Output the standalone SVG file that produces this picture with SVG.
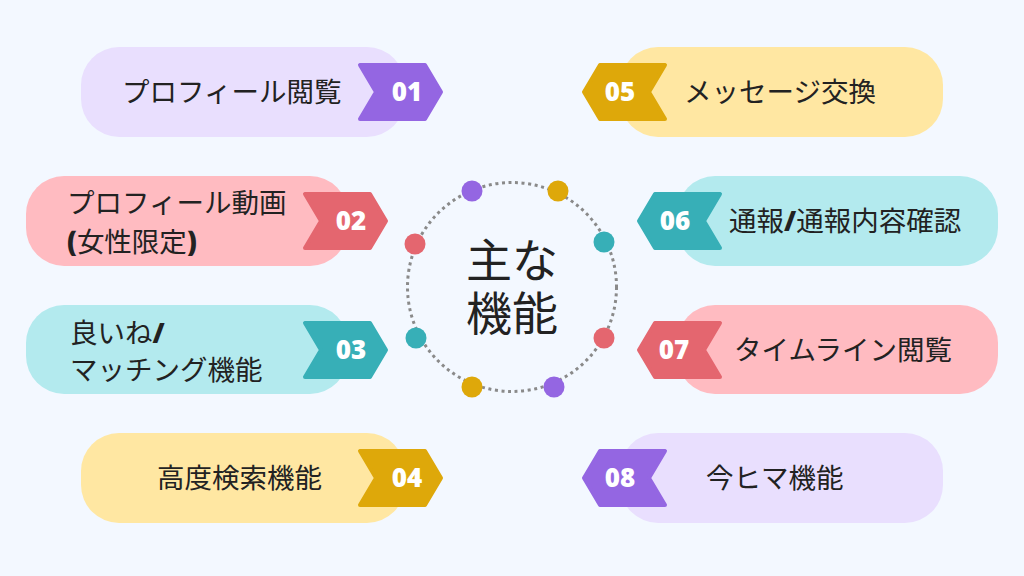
<svg xmlns="http://www.w3.org/2000/svg" width="1024" height="576" viewBox="0 0 1024 576">
<defs>
<style>
.lbl{font-family:"Noto Sans CJK JP","Noto Sans",sans-serif;font-size:27.5px;font-weight:400;fill:#222222}
.num{font-family:"Open Sans","Noto Sans",sans-serif;font-size:26px;font-weight:800;fill:#ffffff;text-anchor:middle}
.b{font-family:"Open Sans","Noto Sans",sans-serif;font-weight:800}
.ctr{font-family:"Noto Sans CJK JP","Noto Sans",sans-serif;font-size:46px;font-weight:400;fill:#222222;text-anchor:middle}
.badge{stroke-width:4;stroke-linejoin:round}
.purple-c{fill:#E9DFFE}.purple-b{fill:#9466E2;stroke:#9466E2}
.red-c{fill:#FFBBC1}.red-b{fill:#E4666F;stroke:#E4666F}
.teal-c{fill:#B3EAEE}.teal-b{fill:#37AFB7;stroke:#37AFB7}
.gold-c{fill:#FFE7A2}.gold-b{fill:#DEA80A;stroke:#DEA80A}
</style>
<path id="bR" d="M2,2 L67,2 L83,29 L67,56 L2,56 L18,29 Z"/>
<path id="bL" d="M83,2 L18,2 L2,29 L18,56 L83,56 L67,29 Z"/>
</defs>
<rect width="1024" height="576" fill="#F3F8FF"/>

<g id="connectors">
<circle cx="512" cy="287" r="104.5" fill="none" stroke="#8A8A8A" stroke-width="3" stroke-dasharray="3 3.6"/>
</g>

<g id="center">
<text class="ctr" x="512" y="277">主な</text>
<text class="ctr" x="512" y="330">機能</text>
<circle cx="472" cy="191" r="10.5" fill="#9466E2"/>
<circle cx="558" cy="191" r="10.5" fill="#DEA80A"/>
<circle cx="604" cy="242" r="10.5" fill="#37AFB7"/>
<circle cx="415" cy="244" r="10.5" fill="#E4666F"/>
<circle cx="416" cy="338" r="10.5" fill="#37AFB7"/>
<circle cx="604" cy="338" r="10.5" fill="#E4666F"/>
<circle cx="472" cy="387" r="10.5" fill="#DEA80A"/>
<circle cx="554" cy="387" r="10.5" fill="#9466E2"/>
</g>

<g id="node01">
<rect class="purple-c" x="81" y="47" width="324" height="90" rx="38"/>
<use href="#bR" class="badge purple-b" transform="translate(358,63)"/>
<text class="num" x="407" y="101">01</text>
<text class="lbl" x="122" y="102">プロフィール閲覧</text>
</g>

<g id="node02">
<rect class="red-c" x="26" y="176" width="322" height="90" rx="38"/>
<use href="#bR" class="badge red-b" transform="translate(303,192)"/>
<text class="num" x="351" y="230">02</text>
<text class="lbl" x="67" y="213">プロフィール動画</text>
<text class="lbl" x="67" y="252"><tspan class="b">(</tspan>女性限定<tspan class="b">)</tspan></text>
</g>

<g id="node03">
<rect class="teal-c" x="26" y="305" width="322" height="89" rx="38"/>
<use href="#bR" class="badge teal-b" transform="translate(303,321)"/>
<text class="num" x="351" y="359">03</text>
<text class="lbl" x="70" y="343">良いね<tspan class="b">/</tspan></text>
<text class="lbl" x="70" y="380">マッチング機能</text>
</g>

<g id="node04">
<rect class="gold-c" x="81" y="433" width="324" height="90" rx="38"/>
<use href="#bR" class="badge gold-b" transform="translate(358,449)"/>
<text class="num" x="407" y="487">04</text>
<text class="lbl" x="157" y="488">高度検索機能</text>
</g>

<g id="node05">
<rect class="gold-c" x="620" y="47" width="323" height="90" rx="38"/>
<use href="#bL" class="badge gold-b" transform="translate(582,63)"/>
<text class="num" x="620" y="101">05</text>
<text class="lbl" x="684" y="102">メッセージ交換</text>
</g>

<g id="node06">
<rect class="teal-c" x="677" y="176" width="321" height="90" rx="38"/>
<use href="#bL" class="badge teal-b" transform="translate(637,192)"/>
<text class="num" x="675" y="230">06</text>
<text class="lbl" x="729" y="231">通報<tspan class="b">/</tspan>通報内容確認</text>
</g>

<g id="node07">
<rect class="red-c" x="677" y="305" width="321" height="89" rx="38"/>
<use href="#bL" class="badge red-b" transform="translate(637,321)"/>
<text class="num" x="674" y="359">07</text>
<text class="lbl" x="734" y="360">タイムライン閲覧</text>
</g>

<g id="node08">
<rect class="purple-c" x="620" y="433" width="323" height="90" rx="38"/>
<use href="#bL" class="badge purple-b" transform="translate(582,449)"/>
<text class="num" x="620" y="487">08</text>
<text class="lbl" x="706" y="488">今ヒマ機能</text>
</g>
</svg>
